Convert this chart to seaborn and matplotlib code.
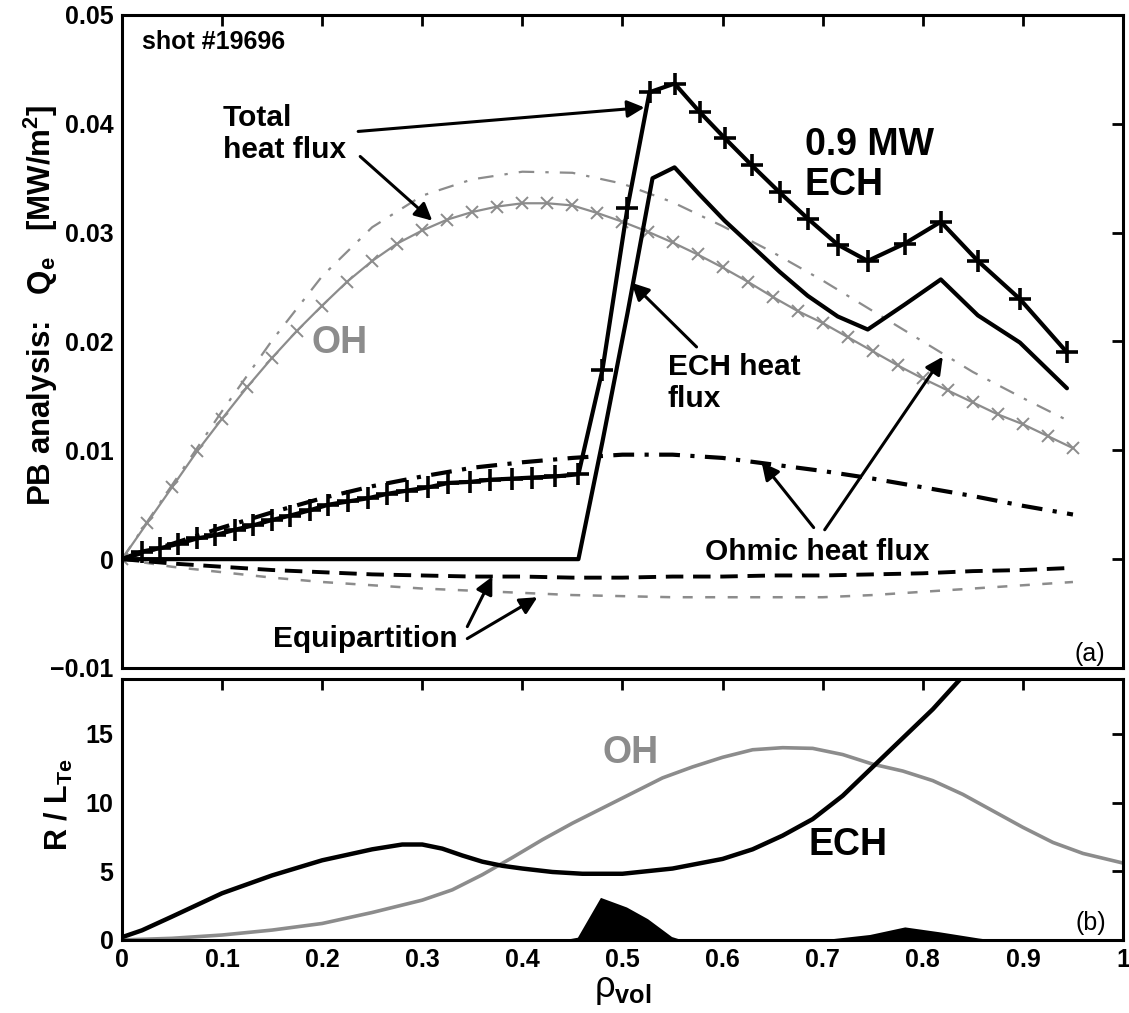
import matplotlib
matplotlib.use("Agg")
import matplotlib.pyplot as plt
import seaborn as sns

# ---------------- data ----------------
# (a) OH discharge: total electron heat flux (grey, x markers)
oh_total_x = [0, 0.025, 0.05, 0.075, 0.1, 0.125, 0.15, 0.175, 0.2, 0.225, 0.25, 0.275, 0.3,
              0.325, 0.35, 0.375, 0.4, 0.425, 0.45, 0.475, 0.5, 0.525, 0.55, 0.575, 0.6,
              0.625, 0.65, 0.675, 0.7, 0.725, 0.75, 0.775, 0.8, 0.825, 0.85, 0.875, 0.9,
              0.925, 0.95]
oh_total_y = [0, 0.0033, 0.0066, 0.0099, 0.0129, 0.0158, 0.0185, 0.0210, 0.0233, 0.0255,
              0.0274, 0.0290, 0.0302, 0.0312, 0.0319, 0.0324, 0.0327, 0.0327, 0.0325,
              0.0318, 0.0310, 0.0301, 0.0291, 0.0280, 0.0268, 0.0255, 0.0241, 0.0228,
              0.0217, 0.0204, 0.0191, 0.0178, 0.0166, 0.0155, 0.0144, 0.0133, 0.0124,
              0.0113, 0.0102]
# (a) OH discharge: ohmic heat flux (grey dash-dot)
oh_ohmic_x = [0, 0.05, 0.1, 0.15, 0.2, 0.25, 0.3, 0.35, 0.4, 0.45, 0.5, 0.55, 0.6, 0.65,
              0.7, 0.75, 0.8, 0.85, 0.9, 0.95]
oh_ohmic_y = [0, 0.0068, 0.0136, 0.0201, 0.0260, 0.0305, 0.0334, 0.0349, 0.0356, 0.0355,
              0.0345, 0.0328, 0.0306, 0.0282, 0.0256, 0.0228, 0.0200, 0.0172, 0.0148, 0.0125]
# (a) OH discharge: equipartition (grey dashed)
oh_equi_x = [0, 0.05, 0.1, 0.15, 0.2, 0.25, 0.3, 0.35, 0.4, 0.45, 0.5, 0.55, 0.6, 0.65,
             0.7, 0.75, 0.8, 0.85, 0.9, 0.95]
oh_equi_y = [0, -0.0007, -0.0012, -0.0017, -0.0021, -0.0024, -0.0027, -0.0029, -0.0031,
             -0.0033, -0.0034, -0.0035, -0.0035, -0.0035, -0.0035, -0.0033, -0.0030,
             -0.0027, -0.0024, -0.0021]
# (a) ECH discharge: total heat flux (black, + markers)
ech_total_x = [0, 0.02, 0.038, 0.056, 0.075, 0.093, 0.113, 0.131, 0.15, 0.168, 0.188,
               0.206, 0.226, 0.246, 0.265, 0.285, 0.306, 0.326, 0.348, 0.368, 0.39, 0.41,
               0.433, 0.456, 0.48, 0.505, 0.527, 0.552, 0.577, 0.602, 0.629, 0.657, 0.685,
               0.715, 0.745, 0.782, 0.818, 0.855, 0.897, 0.944]
ech_total_y = [0, 0.0007, 0.0010, 0.0014, 0.0019, 0.0022, 0.0027, 0.0031, 0.0036, 0.0040,
               0.0045, 0.0050, 0.0053, 0.0056, 0.0060, 0.0063, 0.0066, 0.0070, 0.0071,
               0.0073, 0.0074, 0.0075, 0.0076, 0.0078, 0.0174, 0.0323, 0.0429, 0.0437,
               0.0411, 0.0387, 0.0362, 0.0337, 0.0313, 0.0289, 0.0274, 0.0290, 0.0310,
               0.0274, 0.0239, 0.0190]
# (a) ECH discharge: ECH heat flux (black solid)
ech_flux_x = [0, 0.456, 0.48, 0.505, 0.53, 0.552, 0.577, 0.602, 0.629, 0.657, 0.685,
              0.715, 0.745, 0.782, 0.818, 0.855, 0.897, 0.944]
ech_flux_y = [0, 0, 0.0108, 0.0226, 0.0350, 0.0360, 0.0335, 0.0311, 0.0288, 0.0264,
              0.0242, 0.0223, 0.0211, 0.0234, 0.0257, 0.0224, 0.0199, 0.0157]
# (a) ECH discharge: ohmic heat flux (black dash-dot)
ech_ohmic_x = [0, 0.05, 0.1, 0.15, 0.2, 0.25, 0.3, 0.35, 0.4, 0.45, 0.5, 0.55, 0.6, 0.65,
               0.7, 0.75, 0.8, 0.85, 0.9, 0.95]
ech_ohmic_y = [0, 0.0014, 0.0029, 0.0043, 0.0056, 0.0067, 0.0076, 0.0084, 0.0089, 0.0093,
               0.0096, 0.0096, 0.0093, 0.0087, 0.0081, 0.0074, 0.0066, 0.0058, 0.0049, 0.0041]
# (a) ECH discharge: equipartition (black dashed)
ech_equi_x = [0, 0.05, 0.1, 0.15, 0.2, 0.25, 0.3, 0.35, 0.4, 0.45, 0.5, 0.55, 0.6, 0.65,
              0.7, 0.75, 0.8, 0.85, 0.9, 0.95]
ech_equi_y = [0, -0.0004, -0.0007, -0.0010, -0.0012, -0.0014, -0.0015, -0.0016, -0.0016,
              -0.0017, -0.0017, -0.0016, -0.0016, -0.0015, -0.0015, -0.0014, -0.0013,
              -0.0011, -0.0010, -0.0008]
# (b) R/L_Te, ECH discharge (black)
rlte_ech_x = [0, 0.02, 0.05, 0.1, 0.15, 0.2, 0.25, 0.28, 0.3, 0.32, 0.34, 0.36, 0.38, 0.4,
              0.43, 0.46, 0.5, 0.55, 0.6, 0.63, 0.66, 0.69, 0.72, 0.75, 0.78, 0.81, 0.84,
              0.86]
rlte_ech_y = [0.2, 0.7, 1.7, 3.4, 4.7, 5.8, 6.6, 6.95, 6.95, 6.65, 6.15, 5.7, 5.4, 5.2,
              4.95, 4.82, 4.82, 5.2, 5.9, 6.6, 7.6, 8.8, 10.5, 12.6, 14.7, 16.8, 19.2, 20.5]
# (b) R/L_Te, OH discharge (grey)
rlte_oh_x = [0, 0.05, 0.1, 0.15, 0.2, 0.25, 0.3, 0.33, 0.36, 0.39, 0.42, 0.45, 0.48, 0.51,
             0.54, 0.57, 0.6, 0.63, 0.66, 0.69, 0.72, 0.75, 0.78, 0.81, 0.84, 0.87, 0.9,
             0.93, 0.96, 1.0]
rlte_oh_y = [0, 0.12, 0.36, 0.72, 1.2, 2.0, 2.9, 3.65, 4.75, 6.0, 7.3, 8.5, 9.6, 10.7,
             11.8, 12.6, 13.3, 13.85, 14.0, 13.95, 13.5, 12.8, 12.3, 11.6, 10.6, 9.4,
             8.2, 7.1, 6.3, 5.6]
# (b) ECH power deposition (black filled)
dep_x = [0, 0.44, 0.455, 0.478, 0.504, 0.525, 0.549, 0.56, 0.71, 0.747, 0.782, 0.816,
         0.855, 0.87, 1.0]
dep_y = [0, 0, 0.2, 3.1, 2.4, 1.55, 0.25, 0, 0.1, 0.4, 0.95, 0.6, 0.15, 0, 0]

x_ticks = [0, 0.1, 0.2, 0.3, 0.4, 0.5, 0.6, 0.7, 0.8, 0.9, 1.0]
x_tick_labels = ["0", "0.1", "0.2", "0.3", "0.4", "0.5", "0.6", "0.7", "0.8", "0.9", "1"]
qe_ticks = [-0.01, 0, 0.01, 0.02, 0.03, 0.04, 0.05]
qe_tick_labels = ["\u22120.01", "0", "0.01", "0.02", "0.03", "0.04", "0.05"]
rlte_ticks = [0, 5, 10, 15]
rlte_tick_labels = ["0", "5", "10", "15"]

# ---------------- style ----------------
sns.set_theme(style="white")
plt.rcParams["font.family"] = ["Liberation Sans", "DejaVu Sans"]
plt.rcParams.update({
    "font.weight": "bold",
    "mathtext.fontset": "custom",
    "mathtext.rm": "Liberation Sans:regular",
    "mathtext.it": "Liberation Sans:bold",
    "mathtext.bf": "Liberation Sans:bold",
    "axes.linewidth": 2.2,
    "axes.edgecolor": "black",
    "text.color": "black",
    "axes.labelcolor": "black",
    "xtick.color": "black",
    "ytick.color": "black",
})

GREY = "#8c8c8c"

fig = plt.figure(figsize=(11.29, 10.13), dpi=100)
ax1 = fig.add_axes([0.108, 0.3406, 0.8867, 0.6446])
ax2 = fig.add_axes([0.108, 0.0721, 0.8867, 0.2576])


def line(ax, x, y, **kw):
    sns.lineplot(x=x, y=y, ax=ax, sort=False, estimator=None, legend=False, **kw)


# ---- panel (a) ----
line(ax1, oh_ohmic_x, oh_ohmic_y, color=GREY, linewidth=1.6,
     linestyle=(0, (7, 5, 1.5, 5)))
line(ax1, oh_equi_x, oh_equi_y, color=GREY, linewidth=1.8,
     linestyle=(0, (4, 5)))
line(ax1, oh_total_x, oh_total_y, color=GREY, linewidth=1.6, marker="x",
     markersize=8, markeredgewidth=1.4, markeredgecolor=GREY)
line(ax1, ech_ohmic_x, ech_ohmic_y, color="black", linewidth=3,
     linestyle=(0, (5, 2.5, 1, 2.5)))
line(ax1, ech_equi_x, ech_equi_y, color="black", linewidth=2.8,
     linestyle=(0, (4.5, 2.5)))
line(ax1, ech_flux_x, ech_flux_y, color="black", linewidth=3)
line(ax1, ech_total_x, ech_total_y, color="black", linewidth=3, marker="+",
     markersize=16, markeredgewidth=2.6, markeredgecolor="black")

ax1.set_xlim(0, 1)
ax1.set_ylim(-0.01, 0.05)
ax1.set_xticks(x_ticks, labels=x_tick_labels)
ax1.set_yticks(qe_ticks, labels=qe_tick_labels)
ax1.tick_params(direction="in", length=8, width=2, top=True, right=True,
                labelbottom=False, labelsize=18, pad=6)
ax1.set_xlabel("")
ax1.set_ylabel(r"PB analysis:   $Q_e$   [MW/m$^{\mathbf{2}}$]", fontsize=22.5,
               fontweight="bold")
ax1.yaxis.set_label_coords(-0.062, 0.555)

txt = dict(fontweight="bold", fontsize=21.5)
ax1.text(0.02, 0.0475, "shot #19696", fontsize=18, fontweight="bold",
         ha="left", va="center")
ax1.text(0.101, 0.0418, "Total\nheat flux", ha="left", va="top",
         linespacing=1.15, **txt)
ax1.text(0.682, 0.0397, "0.9 MW\nECH", ha="left", va="top", fontsize=27,
         fontweight="bold", linespacing=1.15)
ax1.text(0.217, 0.0199, "OH", ha="center", va="center", fontsize=27,
         fontweight="bold", color=GREY)
ax1.text(0.545, 0.0189, "ECH heat\nflux", ha="left", va="top",
         linespacing=1.15, **txt)
ax1.text(0.695, 0.0007, "Ohmic heat flux", ha="center", va="center", **txt)
ax1.text(0.243, -0.0073, "Equipartition", ha="center", va="center", **txt)
ax1.text(0.982, -0.0087, "(a)", ha="right", va="center", fontsize=18,
         fontweight="normal")

arrow = dict(arrowstyle="-|>", color="black", lw=2.2, mutation_scale=26,
             shrinkA=0, shrinkB=0)
for start, tip in [((0.236, 0.0393), (0.522, 0.0415)),
                   ((0.238, 0.0370), (0.310, 0.0311)),
                   ((0.574, 0.0195), (0.509, 0.0254)),
                   ((0.691, 0.0029), (0.639, 0.0089)),
                   ((0.702, 0.0027), (0.820, 0.0186)),
                   ((0.345, -0.0062), (0.370, -0.0016)),
                   ((0.345, -0.0073), (0.415, -0.0035))]:
    ax1.annotate("", xy=tip, xytext=start, arrowprops=arrow)

# ---- panel (b) ----
ax2.fill_between(dep_x, 0, dep_y, color="black", linewidth=0)
line(ax2, rlte_oh_x, rlte_oh_y, color=GREY, linewidth=2.6)
line(ax2, rlte_ech_x, rlte_ech_y, color="black", linewidth=3.2)

ax2.set_xlim(0, 1)
ax2.set_ylim(0, 19)
ax2.set_xticks(x_ticks, labels=x_tick_labels)
ax2.set_yticks(rlte_ticks, labels=rlte_tick_labels)
ax2.tick_params(direction="in", length=8, width=2, top=True, right=True,
                labelsize=18, pad=6)
ax2.set_ylabel(r"R / L$_{Te}$", fontsize=22, fontweight="bold")
ax2.yaxis.set_label_coords(-0.047, 0.52)
ax2.set_xlabel(r"$\mathrm{\rho}_{vol}$", fontsize=26, labelpad=0)

ax2.text(0.508, 13.6, "OH", ha="center", va="center", fontsize=27,
         fontweight="bold", color=GREY)
ax2.text(0.725, 6.9, "ECH", ha="center", va="center", fontsize=27,
         fontweight="bold")
ax2.text(0.983, 1.25, "(b)", ha="right", va="center", fontsize=18,
         fontweight="normal")

fig.savefig("out.png", dpi=100)
